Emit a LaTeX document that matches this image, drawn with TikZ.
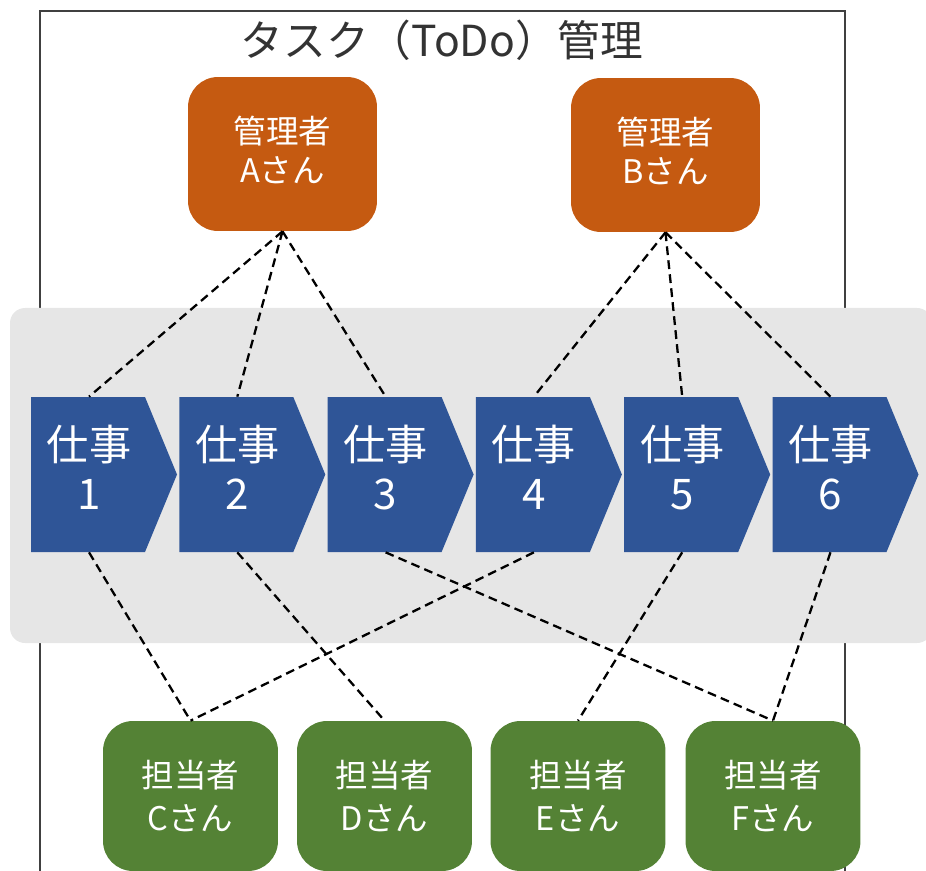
\documentclass[tikz,border=0pt]{standalone}
\usepackage{fontspec}
\setmainfont{Noto Sans CJK JP}
\definecolor{mgrorange}{HTML}{C55A11}
\definecolor{taskblue}{HTML}{2F5597}
\definecolor{staffgreen}{HTML}{548235}
\definecolor{bandgray}{HTML}{E6E6E6}
\definecolor{framegray}{HTML}{404040}
\tikzset{
  mgr/.style={fill=mgrorange, rounded corners=0.6cm, minimum width=3.78cm, minimum height=3.08cm, text=white, align=center, text depth=0.2cm, font=\fontsize{18.5}{22}\selectfont},
  staff/.style={fill=staffgreen, rounded corners=0.6cm, minimum width=3.5cm, minimum height=3cm, text=white, align=center, font=\fontsize{18.5}{24}\selectfont},
  tasktext/.style={minimum width=2.28cm, minimum height=3.1cm, inner sep=0pt, text=white, align=center, text depth=0.3cm, font=\fontsize{24}{28}\selectfont},
  link/.style={line width=1.3pt, dash pattern=on 5pt off 3pt},
}
\begin{document}
\begin{tikzpicture}[x=0.02cm, y=-0.02cm]
\useasboundingbox (0,0) rectangle (926,871);
\draw[framegray, line width=1.1pt] (40,880) -- (40,11) -- (845,11) -- (845,880);
\node[font=\fontsize{24.3}{28}\selectfont, text=framegray!80!black] (title) at (442,40) {タスク（ToDo）管理};
\fill[bandgray, rounded corners=0.3cm] (10,308) rectangle (932,643);
\node[mgr] (A) at (282.5,154) {管理者\\Aさん};
\node[mgr] (B) at (665.5,155) {管理者\\Bさん};
\foreach \i in {1,...,6} {
  \pgfmathsetmacro\xl{31+148.3*(\i-1)}
  \fill[taskblue] (\xl,397) -- ++(114,0) -- ++(32,77.5) -- ++(-32,77.5) -- ++(-114,0) -- cycle;
  \node[tasktext] (t\i) at (\xl+58,474.5) {仕事\\\i};
}
\node[staff] (C) at (190.5,796) {担当者\\Cさん};
\node[staff] (D) at (384.5,796) {担当者\\Dさん};
\node[staff] (E) at (578,796) {担当者\\Eさん};
\node[staff] (F) at (773,796) {担当者\\Fさん};
% managers to tasks
\foreach \t in {1,2,3} \draw[link] (A.south) -- (t\t.north);
\foreach \t in {4,5,6} \draw[link] (B.south) -- (t\t.north);
% tasks to staff
\draw[link] (t1.south) -- (C.north);
\draw[link] (t4.south) -- (C.north);
\draw[link] (t2.south) -- (D.north);
\draw[link] (t5.south) -- (E.north);
\draw[link] (t3.south) -- (F.north);
\draw[link] (t6.south) -- (F.north);
\end{tikzpicture}
\end{document}
